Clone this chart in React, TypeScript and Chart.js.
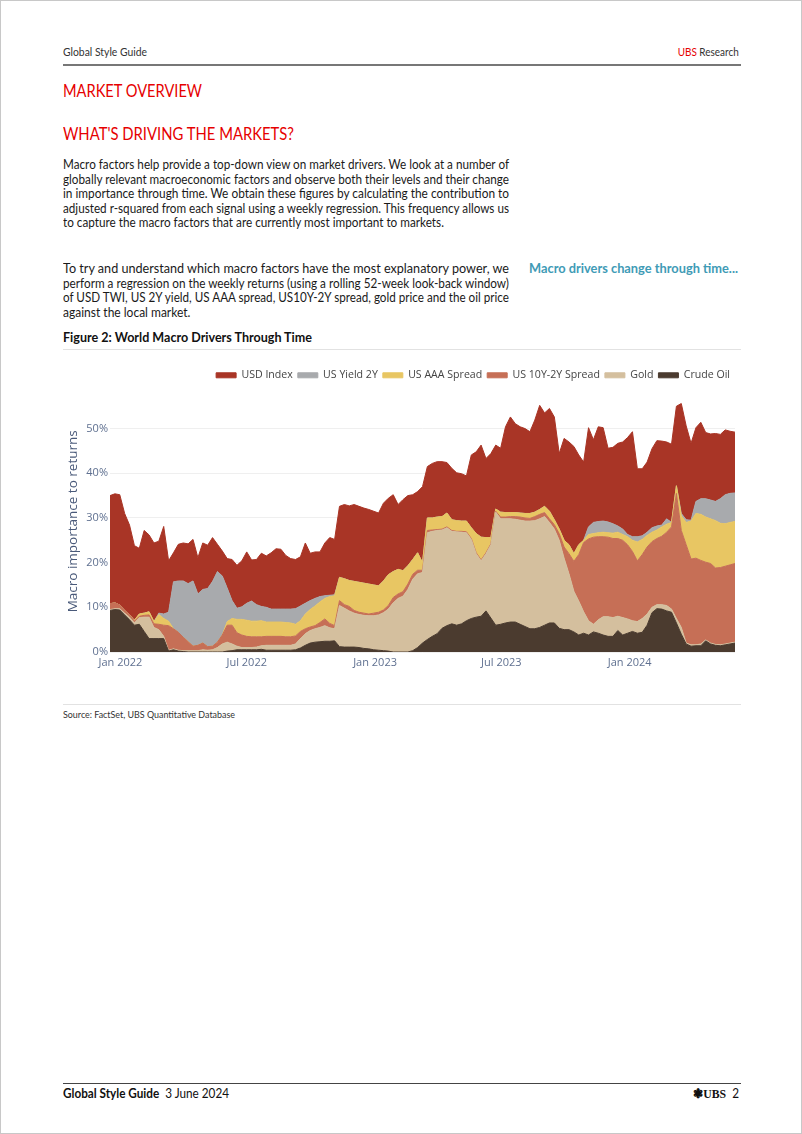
import React, { useEffect, useLayoutEffect, useRef } from 'react';
import { Chart, registerables } from 'chart.js';

Chart.register(...registerables);

// ---- categories (weekly observations, Fridays) ----
const START_DATE_UTC = Date.UTC(2021, 11, 17); // 17 Dec 2021
const WEEKS = 129; // to 31 May 2024
const AXIS_ORIGIN_UTC = Date.UTC(2022, 0, 1);

// ---- x-axis tick labels (days since 1 Jan 2022) ----
const TICK_DAYS = [0, 181, 365, 546, 730];
const TICK_LABELS = ['Jan 2022', 'Jul 2022', 'Jan 2023', 'Jul 2023', 'Jan 2024'];
const Y_TICKS = [0, 10, 20, 30, 40, 50];

// ---- series values (% contribution to adjusted r-squared) ----
const crudeOil = [
  9.3, 9.5, 9.4, 8.3, 7.2, 6.0, 6.2, 4.6, 3.0, 3.0, 3.0, 3.0, 0.2, 0.5, 0.2, 0.1, 0, 0, 0, 0, 0, 0, 0, 0, 0.2, 0.3, 0.5, 0.5, 0.5, 0.5, 0.5, 0.6,
  0.4, 0.4, 0.4, 0.4, 0.4, 0.4, 0.5, 0.9, 1.5, 2.0, 2.2, 2.3, 2.4, 2.4, 2.5, 1.2, 1.1, 1.1, 1.1, 1.0, 0.8, 0.7, 0.5, 0.4, 0.3, 0.2, 0, 0, 0, 0, 0.3, 1.0, 2.0,
  2.8, 3.5, 4.1, 5.3, 5.9, 6.3, 6.0, 6.3, 7.0, 7.5, 7.8, 8.0, 9.2, 7.6, 6.0, 6.2, 6.5, 6.7, 6.7, 6.2, 5.7, 5.2, 5.2, 5.5, 6.0, 6.5, 6.5, 5.3, 5.0, 5.0, 4.5, 3.8,
  4.2, 3.8, 4.5, 4.2, 3.8, 3.5, 3.5, 4.8, 3.8, 4.2, 4.6, 4.2, 4.4, 6.0, 8.8, 9.7, 9.6, 9.2, 8.9, 6.5, 4.0, 1.8, 1.3, 1.4, 1.4, 2.5, 1.8, 1.5, 1.4, 1.6, 1.8, 2.0,
];
const gold = [
  0.2, 0.2, 0.3, 0.4, 0.6, 0.5, 1.5, 3.2, 4.8, 2.5, 2.0, 0.5, 0.2, 0.2, 0.2, 0.2, 0.3, 0.3, 0.3, 0.5, 0.4, 0.5, 1.0, 1.8, 2.0, 1.5, 0.8, 0.5, 0.5, 0.5, 0.6, 0.8,
  1.1, 1.1, 1.1, 1.1, 1.1, 1.1, 1.3, 2.1, 2.6, 2.8, 3.0, 3.2, 3.5, 3.0, 2.7, 9.2, 8.7, 8.1, 7.6, 7.4, 7.4, 7.4, 7.6, 7.9, 8.5, 9.4, 11.0, 12.0, 12.5, 14.0, 16.0, 16.5, 15.8,
  23.9, 23.5, 23.1, 22.0, 21.9, 20.7, 20.9, 20.5, 19.7, 17.7, 14.2, 12.4, 12.8, 16.4, 25.3, 23.6, 23.3, 23.1, 23.0, 23.3, 23.6, 24.1, 24.2, 24.3, 24.3, 22.5, 21.0, 19.7, 16.0, 12.5, 9.1, 7.6,
  4.8, 3.2, 1.7, 3.0, 4.1, 4.4, 4.2, 3.2, 3.9, 3.2, 2.4, 2.6, 3.1, 2.5, 1.2, 0.9, 1.0, 1.2, 0.7, 1.0, 1.5, 0.2, 0.3, 0.2, 0.4, 0.2, 0.2, 0.2, 0.2, 0.2, 0.2, 0.2,
];
const us10y2ySpread = [
  1.3, 1.3, 0.8, 0.6, 0.5, 0.4, 0.3, 0.4, 0.5, 0.8, 1.2, 2.5, 5.5, 4.5, 4.0, 3.0, 2.0, 1.0, 1.2, 1.5, 0.8, 0.8, 1.2, 2.0, 3.8, 4.2, 3.0, 2.8, 2.5, 2.4, 2.3, 2.0,
  2.0, 2.0, 2.0, 2.0, 1.9, 1.9, 1.8, 1.6, 1.1, 0.8, 0.7, 1.1, 1.5, 1.0, 0.7, 1.1, 0.8, 1.0, 0.6, 0.5, 0.5, 0.4, 0.6, 0.6, 0.6, 0.8, 1.2, 1.0, 1.0, 1.2, 1.1, 0.8, 0.5,
  0.5, 0.3, 0.2, 0.2, 0.2, 0.2, 0.1, 0.2, 0.2, 0.2, 0.2, 0.2, 0.2, 0.2, 0.2, 0.4, 0.4, 0.5, 0.6, 0.7, 0.7, 0.6, 0.9, 1.0, 0.9, 0.8, 1.0, 1.5, 2.5, 4.5, 6.7, 10.4,
  15.5, 18.3, 19.5, 18.6, 17.9, 17.8, 17.7, 17.4, 17.3, 16.6, 15.5, 13.6, 14.3, 15.0, 14.7, 14.8, 15.3, 16.4, 18.4, 28.0, 21.7, 22.0, 19.2, 19.4, 18.7, 17.4, 17.8, 17.1, 17.3, 17.4, 17.5, 17.6,
];
const usAaaSpread = [
  0, 0, 0, 0, 0, 0.2, 0.5, 0.5, 0.7, 0.5, 2.2, 1.5, 1.0, 0, 0, 0, 0, 0, 0, 0, 0, 0, 0, 0, 0.8, 1.5, 3.0, 3.5, 3.6, 3.5, 3.5, 3.6,
  3.2, 3.2, 3.2, 3.2, 3.2, 3.1, 2.6, 2.4, 3.3, 3.9, 4.4, 4.6, 4.6, 6.0, 6.7, 5.2, 5.8, 5.8, 6.5, 6.7, 6.7, 6.7, 6.3, 5.9, 6.5, 6.9, 5.8, 5.5, 4.7, 4.1, 3.3, 3.9, 1.7,
  2.8, 2.7, 2.8, 2.8, 3.1, 2.4, 2.4, 2.3, 2.4, 2.4, 4.3, 5.1, 3.4, 1.4, 0.5, 1.1, 1.0, 0.9, 0.9, 0.9, 1.0, 1.1, 1.0, 1.1, 1.4, 1.7, 1.1, 1.0, 1.5, 2.0, 1.7, 2.2,
  0.5, 1.0, 0.8, 0.9, 1.0, 1.0, 1.2, 1.4, 1.3, 1.8, 2.5, 4.2, 3.4, 2.6, 2.1, 1.9, 2.1, 1.8, 1.0, 1.7, 3.3, 5.0, 8.5, 10.0, 10.3, 10.1, 10.0, 10.6, 9.9, 9.5, 9.5, 9.4,
];
const usYield2y = [
  0, 0, 0, 0, 0, 0, 0, 0, 0, 0, 0.3, 1.0, 2.0, 10.5, 11.5, 12.6, 13.0, 14.6, 11.5, 12.0, 13.0, 14.5, 15.8, 13.2, 7.5, 4.0, 2.5, 2.8, 3.8, 4.5, 3.7, 3.2,
  3.3, 2.9, 2.9, 2.9, 3.0, 3.1, 3.5, 3.3, 2.4, 2.0, 1.7, 1.2, 0.6, 0.3, 0.2, 0, 0, 0, 0, 0, 0, 0, 0, 0, 0, 0, 0, 0, 0, 0, 0, 0, 0,
  0, 0, 0, 0, 0, 0, 0, 0, 0, 0, 0, 0, 0, 0, 0, 0, 0, 0, 0, 0, 0, 0, 0, 0, 0, 0, 0, 0, 0, 0, 0, 0,
  0, 1.7, 2.5, 2.5, 2.5, 2.4, 2.1, 1.4, 1.2, 0.5, 0.8, 1.2, 0.8, 0.7, 1.0, 0.9, 0.4, 1.2, 0, 0, 0.5, 0.6, 0.2, 2.7, 3.5, 4.1, 4.2, 4.3, 5.5, 6.5, 6.5, 6.4,
];
const usdIndex = [
  24.2, 24.4, 24.7, 21.7, 20.1, 16.7, 14.7, 18.5, 17.2, 17.6, 16.1, 19.6, 11.5, 6.5, 8.2, 8.5, 8.9, 9.3, 8.1, 10.4, 9.7, 9.8, 6.1, 5.6, 6.6, 9.2, 9.6, 10.3, 11.5, 9.2, 10.1, 11.9,
  11.5, 12.6, 13.5, 13.4, 12.0, 11.3, 11.0, 11.0, 13.5, 10.6, 10.4, 10.0, 11.8, 12.9, 12.4, 15.9, 16.6, 16.7, 17.2, 17.0, 16.8, 16.7, 16.5, 16.3, 17.4, 17.1, 17.2, 14.5, 15.9, 15.7, 14.5, 13.7, 17.0,
  11.5, 12.2, 12.4, 12.3, 11.3, 11.5, 10.7, 10.6, 10.1, 16.3, 18.3, 20.6, 17.7, 18.8, 14.3, 14.3, 19.2, 21.4, 19.9, 19.3, 19.0, 18.3, 20.6, 23.3, 20.9, 23.0, 23.0, 16.9, 22.8, 23.0, 24.0, 20.1,
  17.5, 22.2, 18.5, 21.2, 20.9, 16.5, 17.1, 18.5, 19.5, 21.7, 23.5, 15.2, 15.0, 15.7, 17.7, 19.1, 18.8, 17.2, 17.5, 17.8, 24.6, 21.0, 17.2, 16.5, 17.1, 14.8, 14.8, 15.2, 14.4, 14.5, 13.9, 13.6,
];

// stacking order: bottom first
const SERIES = [
  { name: 'Crude Oil', values: crudeOil, color: '#4b3b2f' },
  { name: 'Gold', values: gold, color: '#d4bf9e' },
  { name: 'US 10Y-2Y Spread', values: us10y2ySpread, color: '#c66f56' },
  { name: 'US AAA Spread', values: usAaaSpread, color: '#e8c663' },
  { name: 'US Yield 2Y', values: usYield2y, color: '#a8aaad' },
  { name: 'USD Index', values: usdIndex, color: '#a93526' },
];

const DAY_MS = 86400000;
const weekDays: number[] = [];
for (let i = 0; i < WEEKS; i++) {
  weekDays.push(Math.round((START_DATE_UTC + i * 7 * DAY_MS - AXIS_ORIGIN_UTC) / DAY_MS));
}

const BODY_FONT = 'Lato, "Noto Sans", sans-serif';
const CHART_FONT = '"Open Sans", "Noto Sans", sans-serif';
const UBS_RED = '#e60000';
const TEXT_SHIFT = -1.5;

// Text line squeezed horizontally to the width it has in the reference
function FitText(props: { x: number; cy: number; size: number; target?: number; scale?: number; right?: boolean; style?: any; children?: any }) {
  const ref = useRef<HTMLSpanElement | null>(null);
  useLayoutEffect(() => {
    const el = ref.current;
    if (!el) return;
    el.style.transform = 'none';
    const w = el.getBoundingClientRect().width;
    let s = props.scale || 1;
    if (props.target && w > 0) s = props.target / w;
    el.style.transform = `scaleX(${s})`;
  }, [props.target, props.scale]);
  const h = Math.round(props.size * 1.3);
  const pos: any = props.right ? { right: 802 - props.x } : { left: props.x };
  return (
    <div style={{ position: 'absolute', top: props.cy - h / 2 + TEXT_SHIFT, height: h, lineHeight: h + 'px', whiteSpace: 'nowrap', ...pos }}>
      <span
        ref={ref}
        style={{
          display: 'inline-block',
          fontSize: props.size,
          fontFamily: BODY_FONT,
          color: '#1a1a1a',
          transformOrigin: props.right ? 'right center' : 'left center',
          ...props.style,
        }}
      >
        {props.children}
      </span>
    </div>
  );
}

// Paragraph: full lines are fitted to the column width, the last line uses their mean squeeze
function Para(props: { lines: string[]; ys: number[]; full: number; size: number }) {
  const refs = useRef<(HTMLSpanElement | null)[]>([]);
  useLayoutEffect(() => {
    const els = refs.current;
    const scales: number[] = [];
    els.forEach((el, i) => {
      if (!el) return;
      el.style.transform = 'none';
      const w = el.getBoundingClientRect().width;
      if (i < props.full && w > 0) scales.push(446 / w);
    });
    const mean = scales.reduce((a, b) => a + b, 0) / Math.max(scales.length, 1);
    els.forEach((el, i) => {
      if (!el) return;
      const s = i < props.full ? scales[i] : mean;
      el.style.transform = `scaleX(${s})`;
    });
  }, []);
  const h = Math.round(props.size * 1.3);
  return (
    <>
      {props.lines.map((t, i) => (
        <div key={i} style={{ position: 'absolute', left: 62, top: props.ys[i] - h / 2 + TEXT_SHIFT, height: h, lineHeight: h + 'px', whiteSpace: 'nowrap' }}>
          <span
            ref={(el) => {
              refs.current[i] = el;
            }}
            style={{ display: 'inline-block', fontSize: props.size, fontFamily: BODY_FONT, color: '#1a1a1a', transformOrigin: 'left center' }}
          >
            {t}
          </span>
        </div>
      ))}
    </>
  );
}

function Rule(props: { y: number; h?: number; color: string }) {
  return <div style={{ position: 'absolute', left: 62, width: 678, top: props.y, height: props.h || 1, background: props.color }} />;
}

const CANVAS_LEFT = 56;
const CANVAS_TOP = 355;
const CANVAS_W = 690;
const CANVAS_H = 345;

function AreaChart() {
  const ref = useRef<HTMLCanvasElement | null>(null);
  useEffect(() => {
    const canvas = ref.current;
    if (!canvas) return;
    const datasets = SERIES.map((s, idx) => ({
      label: s.name,
      data: s.values.map((v, i) => ({ x: weekDays[i], y: v })),
      backgroundColor: s.color,
      borderColor: s.color,
      borderWidth: 1,
      fill: idx === 0 ? 'origin' : '-1',
      pointRadius: 0,
      tension: 0,
    }));
    const chart = new Chart(canvas, {
      type: 'line',
      data: { datasets } as any,
      options: {
        animation: false,
        responsive: false,
        devicePixelRatio: 1,
        layout: { padding: { top: 9, right: 12, bottom: 0, left: 0 } },
        plugins: {
          legend: {
            position: 'top',
            align: 'end',
            reverse: true,
            labels: {
              boxWidth: 20,
              boxHeight: 5,
              padding: 5,
              color: '#444',
              font: { family: CHART_FONT, size: 10.6 },
            },
          },
          tooltip: { enabled: false },
        },
        scales: {
          x: {
            type: 'linear',
            min: weekDays[0],
            max: weekDays[WEEKS - 1],
            grid: { display: false, drawTicks: false },
            border: { display: false },
            afterBuildTicks: (s: any) => {
              s.ticks = TICK_DAYS.map((v) => ({ value: v }));
            },
            afterFit: (s: any) => {
              s.height = 49;
            },
            ticks: {
              autoSkip: false,
              maxRotation: 0,
              padding: 4,
              color: '#5f7090',
              font: { family: CHART_FONT, size: 11 },
              callback: (v: any) => {
                const k = TICK_DAYS.indexOf(Number(v));
                return k >= 0 ? TICK_LABELS[k] : '';
              },
            },
          },
          y: {
            stacked: true,
            min: 0,
            max: 58.5,
            grid: { color: '#efefef', drawTicks: false },
            border: { display: false },
            afterBuildTicks: (s: any) => {
              s.ticks = Y_TICKS.map((v) => ({ value: v }));
            },
            afterFit: (s: any) => {
              s.width = 53;
            },
            ticks: {
              padding: 2,
              color: '#5f7090',
              font: { family: CHART_FONT, size: 11 },
              callback: (v: any) => v + '%',
            },
            title: {
              display: true,
              text: 'Macro importance to returns',
              color: '#4a5a7a',
              font: { family: CHART_FONT, size: 13.5 },
              padding: { top: 8, bottom: 0 },
            },
          },
        },
      } as any,
    });
    return () => chart.destroy();
  }, []);
  return (
    <div style={{ position: 'absolute', left: CANVAS_LEFT, top: CANVAS_TOP, width: CANVAS_W, height: CANVAS_H }}>
      <canvas ref={ref} width={CANVAS_W} height={CANVAS_H} style={{ width: CANVAS_W, height: CANVAS_H, display: 'block' }} />
    </div>
  );
}

const PARA1 = [
  'Macro factors help provide a top-down view on market drivers. We look at a number of',
  'globally relevant macroeconomic factors and observe both their levels and their change',
  'in importance through time. We obtain these figures by calculating the contribution to',
  'adjusted r-squared from each signal using a weekly regression. This frequency allows us',
  'to capture the macro factors that are currently most important to markets.',
];
const PARA2 = [
  'To try and understand which macro factors have the most explanatory power, we',
  'perform a regression on the weekly returns (using a rolling 52-week look-back window)',
  'of USD TWI, US 2Y yield, US AAA spread, US10Y-2Y spread, gold price and the oil price',
  'against the local market.',
];

export default function App() {
  return (
    <div
      style={{
        position: 'absolute',
        left: 0,
        top: 0,
        width: 802,
        height: 1134,
        background: '#fff',
        boxSizing: 'border-box',
        border: '1px solid #c8c8c8',
        overflow: 'hidden',
      }}
    >
      <FitText x={62} cy={51} size={12} target={84} style={{ color: '#333' }}>Global Style Guide</FitText>
      <FitText x={740} cy={51} size={12} target={61} right style={{ color: '#333' }}>
        <span style={{ color: UBS_RED }}>UBS</span> Research
      </FitText>
      <Rule y={63} h={2} color="#777" />

      <FitText x={62} cy={91} size={17} target={139} style={{ color: UBS_RED }}>MARKET OVERVIEW</FitText>
      <FitText x={62} cy={134} size={17} target={231} style={{ color: UBS_RED }}>WHAT'S DRIVING THE MARKETS?</FitText>

      <Para lines={PARA1} ys={[164, 178.5, 193, 207.5, 222]} full={4} size={13} />
      <Para lines={PARA2} ys={[268, 282.5, 297, 311.5]} full={3} size={13} />

      <FitText x={528} cy={268} size={13} target={209} style={{ color: '#3f9bb6', fontWeight: 'bold' }}>Macro drivers change through time...</FitText>

      <FitText x={62} cy={337} size={13} target={249} style={{ fontWeight: 'bold', color: '#111' }}>Figure 2: World Macro Drivers Through Time</FitText>
      <Rule y={348} color="#e2e2e2" />

      <AreaChart />

      <Rule y={703} color="#e2e2e2" />
      <FitText x={62} cy={712.5} size={10} target={172} style={{ color: '#333' }}>Source: FactSet, UBS Quantitative Database</FitText>

      <Rule y={1082} color="#444" />
      <FitText x={62} cy={1093} size={12.5} target={166} style={{ color: '#111' }}>
        <span style={{ fontWeight: 'bold' }}>Global Style Guide</span>
        <span>{'\u00a0\u00a0'}3 June 2024</span>
      </FitText>
      <FitText x={740} cy={1093} size={12.5} target={46} right style={{ color: '#111' }}>
        <span style={{ fontFamily: '"Liberation Serif", serif', fontWeight: 'bold' }}>{'\u2743'}UBS</span>
        <span>{'\u00a0\u00a0'}2</span>
      </FitText>
    </div>
  );
}
